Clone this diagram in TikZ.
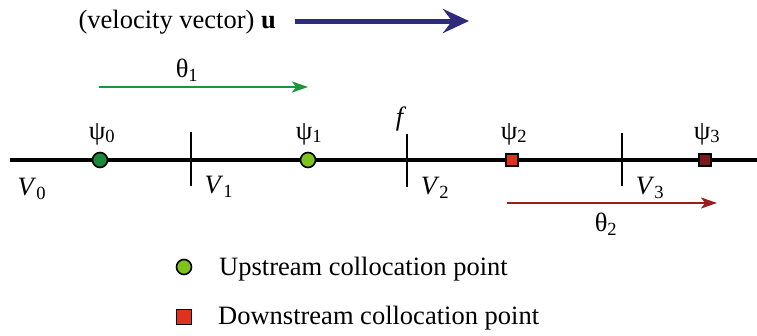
\documentclass[tikz,border=0pt]{standalone}
\usepackage{fontspec}
\setmainfont{Liberation Serif}
\usetikzlibrary{arrows.meta}
\definecolor{darkpt}{RGB}{26,138,58}
\definecolor{lightpt}{RGB}{125,196,30}
\definecolor{redpt}{RGB}{224,48,30}
\definecolor{maroonpt}{RGB}{122,26,26}
\definecolor{velblue}{RGB}{46,42,126}
\definecolor{thgreen}{RGB}{26,150,58}
\definecolor{thred}{RGB}{154,30,30}
\begin{document}
\begin{tikzpicture}[
    x=1pt, y=-1pt,
    every node/.style={font=\fontsize{26.5}{30}\selectfont, inner sep=0pt},
    upcp/.style={circle, draw, line width=1.6pt, minimum size=15pt},
    downcp/.style={rectangle, draw, line width=1.6pt, minimum size=12pt},
    face/.style={draw, line width=2.2pt},
    flux/.style={line width=2pt, -{Stealth[length=16pt,width=11pt,inset=4pt]}}
]
\useasboundingbox (0,0) rectangle (757,335);
% mesh line and cell faces
\coordinate (left) at (10,160);
\coordinate (right) at (757,160);
\draw[line width=4pt] (left) -- (right);
\coordinate (f1a) at (191,132); \coordinate (f1b) at (191,186);
\coordinate (f2a) at (407,134); \coordinate (f2b) at (407,187);
\coordinate (f3a) at (622,133); \coordinate (f3b) at (622,186);
\draw[face] (f1a) -- (f1b);
\draw[face] (f2a) -- (f2b);
\draw[face] (f3a) -- (f3b);
% collocation points
\node[upcp, fill=darkpt] (p0) at (100,160) {};
\node[upcp, fill=lightpt] (p1) at (308,160) {};
\node[downcp, fill=redpt] (p2) at (512,160) {};
\node[downcp, fill=maroonpt] (p3) at (705,160) {};
\node (psi0) at (102,134) {ψ\textsubscript{0}};
\node (psi1) at (309,134) {ψ\textsubscript{1}};
\node (psi2) at (514,134) {ψ\textsubscript{2}};
\node (psi3) at (707,134) {ψ\textsubscript{3}};
\node (f) at (401,119) {\textit{f}};
% cell labels
\node (v0) at (32,189) {\textit{V}\textsubscript{0}};
\node (v1) at (219,187) {\textit{V}\textsubscript{1}};
\node (v2) at (435,188) {\textit{V}\textsubscript{2}};
\node (v3) at (650,188) {\textit{V}\textsubscript{3}};
% velocity and flux arrows
\node[anchor=east] (vel) at (276,22) {(velocity vector) \textbf{u}};
\coordinate (ua) at (295,21); \coordinate (ub) at (469,21);
\draw[velblue, line width=5pt, -{Stealth[length=26pt,width=24pt,inset=9pt]}] (ua) -- (ub);
\node (th1) at (187,70) {θ\textsubscript{1}};
\coordinate (t1a) at (99,87); \coordinate (t1b) at (308,87);
\draw[thgreen, flux] (t1a) -- (t1b);
\coordinate (t2a) at (507,203); \coordinate (t2b) at (717,203);
\draw[thred, flux] (t2a) -- (t2b);
\node (th2) at (606,224) {θ\textsubscript{2}};
% legend
\node[upcp, fill=lightpt] (keyup) at (184,267) {};
\node[anchor=west] (keyuptxt) at (219,269) {Upstream collocation point};
\node[downcp, fill=redpt, minimum size=15pt] (keydown) at (184,317) {};
\node[anchor=west] (keydowntxt) at (218,318) {Downstream collocation point};
\end{tikzpicture}
\end{document}
